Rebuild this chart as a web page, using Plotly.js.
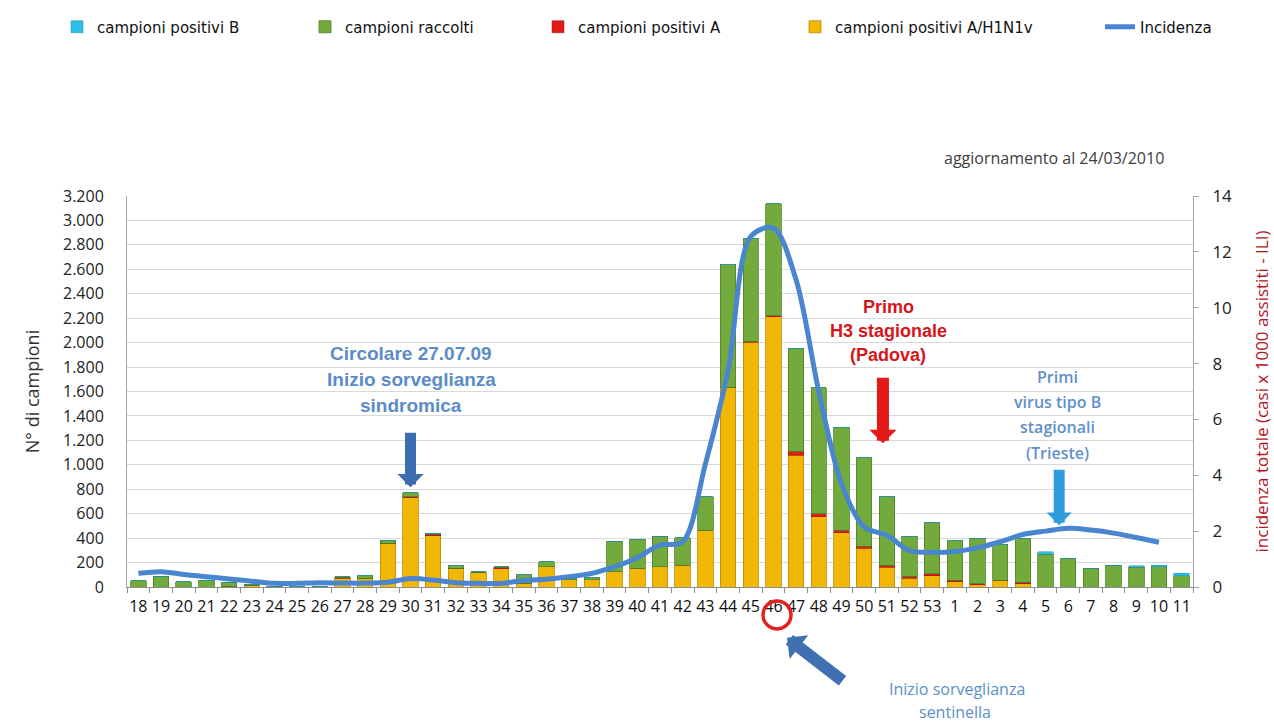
<!DOCTYPE html>
<html>
<head>
<meta charset="utf-8">
<script src="https://cdn.plot.ly/plotly-3.0.1.min.js"></script>
<style>
html,body{margin:0;padding:0;background:#fff;}
#chart{width:1274px;height:725px;}
</style>
</head>
<body>
<div id="chart"></div>
<script>
// ---- data ----
const settimane = ["18","19","20","21","22","23","24","25","26","27","28","29","30","31","32","33","34","35","36","37","38","39","40","41","42","43","44","45","46","47","48","49","50","51","52","53","1","2","3","4","5","6","7","8","9","10","11"];

// campioni positivi A/H1N1v (yellow, bottom of the stack)
const positiviH1N1 = [0,0,0,0,5,15,3,0,3,72,70,355,732,420,150,122,150,30,165,60,60,125,152,166,180,465,1635,2003,2212,1078,574,443,318,160,71,93,45,20,50,25,0,0,0,0,0,0,0];
// campioni positivi A (red)
const positiviA = [0,0,0,0,0,0,0,0,0,8,0,5,5,12,3,0,10,0,2,0,0,0,0,0,0,0,0,10,10,35,27,22,17,20,19,17,10,5,5,15,0,0,0,0,0,0,0];
// campioni raccolti (green, remainder of collected samples)
const raccolti = [52,90,44,57,33,7,2,3,2,4,22,24,36,6,21,3,6,70,40,11,16,250,240,250,223,272,1002,842,915,841,1029,844,724,557,326,415,329,375,295,357,268,234,152,180,160,165,93];
// campioni positivi B (cyan, top of the stack)
const positiviB = [0,0,0,0,0,0,0,0,0,0,0,0,0,0,0,0,0,0,0,0,0,0,0,0,0,0,0,0,0,0,0,0,0,0,0,0,0,0,0,0,20,0,0,0,14,15,18];
// Incidenza (casi x 1000 assistiti - ILI), right axis
const incidenza = [0.49,0.55,0.45,0.37,0.29,0.21,0.13,0.13,0.15,0.14,0.14,0.17,0.30,0.25,0.15,0.13,0.13,0.24,0.28,0.37,0.49,0.73,1.05,1.5,1.62,4.4,7.75,12.55,12.85,11.0,7.0,3.7,2.15,1.85,1.3,1.24,1.27,1.4,1.62,1.88,2.0,2.1,2.04,1.93,1.77,1.6,null];

// ---- geometry helpers (pixel -> paper) ----
const L = 127, R = 1193, T = 195, B = 587;
const px = x => (x - L) / (R - L);
const py = y => (B - y) / (B - T);

const FONT = '"Open Sans", "DejaVu Sans", sans-serif';
const BOLD = '"Liberation Sans", Arial, sans-serif';

const traces = [
  {type:'bar', name:'campioni positivi A/H1N1v', x:settimane, y:positiviH1N1, legend:'legend4',
   marker:{color:'#F2B705', line:{color:'#B98A00', width:0.8}}},
  {type:'bar', name:'campioni positivi A', x:settimane, y:positiviA, legend:'legend3',
   marker:{color:'#E31B1B', line:{color:'#A01010', width:0.5}}},
  {type:'bar', name:'campioni raccolti', x:settimane, y:raccolti, legend:'legend2',
   marker:{color:'#72AA3C', line:{color:'#4C8526', width:0.8}}},
  {type:'bar', name:'campioni positivi B', x:settimane, y:positiviB, legend:'legend',
   marker:{color:'#2DBEE6', line:{color:'#1A8FB0', width:0.5}}},
  {type:'scatter', mode:'lines', name:'Incidenza', x:settimane, y:incidenza, yaxis:'y2', legend:'legend5',
   line:{color:'#4A86D0', width:5, shape:'spline', smoothing:0.9}}
];

function txt(text, x, y, size, color, weight, family){
  return {text:text, xref:'paper', yref:'paper', x:px(x), y:py(y),
    xanchor:'center', yanchor:'middle', showarrow:false,
    font:{family:family||FONT, size:size, color:color, weight:weight||400}};
}

const annotations = [
  txt('aggiornamento al 24/03/2010', 1054, 157, 16, '#404040'),
  // Circolare
  txt('Circolare 27.07.09', 411, 353, 19, '#5B8CC7', 700, BOLD),
  txt('Inizio sorveglianza', 411, 379, 19, '#5B8CC7', 700, BOLD),
  txt('sindromica', 411, 405, 19, '#5B8CC7', 700, BOLD),
  // Primo H3
  txt('Primo', 888, 306, 18, '#D7141A', 700, BOLD),
  txt('H3 stagionale', 888, 330, 18, '#D7141A', 700, BOLD),
  txt('(Padova)', 888, 354, 18, '#D7141A', 700, BOLD),
  // Primi virus B
  txt('Primi', 1057, 376, 16, '#5F90C8', 600),
  txt('virus tipo B', 1057, 402, 16, '#5F90C8', 600),
  txt('stagionali', 1057, 427, 16, '#5F90C8', 600),
  txt('(Trieste)', 1057, 453, 16, '#5F90C8', 600),
  // Inizio sorveglianza sentinella
  txt('Inizio sorveglianza', 957, 689, 16, '#5B8FC9'),
  txt('sentinella', 955, 712, 16, '#5B8FC9'),
  // arrows (x given as category index)
  {text:'', xref:'x', yref:'paper', x:12, y:py(487), ax:0, ay:-56, showarrow:true,
   arrowhead:1, arrowwidth:11, arrowsize:0.4, arrowcolor:'#3D6DAE', standoff:0},
  {text:'', xref:'x', yref:'paper', x:32.83, y:py(443), ax:0, ay:-67, showarrow:true,
   arrowhead:1, arrowwidth:12, arrowsize:0.38, arrowcolor:'#E61919', standoff:0},
  {text:'', xref:'x', yref:'paper', x:40.6, y:py(525), ax:0, ay:-57, showarrow:true,
   arrowhead:1, arrowwidth:11, arrowsize:0.38, arrowcolor:'#2F9CDD', standoff:0},
  {text:'', xref:'paper', yref:'paper', x:px(787), y:py(638), ax:57, ay:44, showarrow:true,
   arrowhead:1, arrowwidth:12, arrowsize:0.42, arrowcolor:'#4170B0', standoff:0}
];

const shapes = [
  {type:'circle', xref:'paper', yref:'paper', x0:px(763), x1:px(791), y0:py(629), y1:py(601),
   line:{color:'#E3201B', width:3.5}}
];

function leg(xText){
  return {orientation:'h', x:px(xText - 40), xanchor:'left', y:py(27), yanchor:'middle',
    bgcolor:'rgba(0,0,0,0)', font:{family:'"DejaVu Sans", sans-serif', size:15, color:'#111'}};
}

const layout = {
  width:1274, height:725,
  margin:{l:L, r:1274-R, t:T, b:725-B, pad:0},
  paper_bgcolor:'#ffffff', plot_bgcolor:'#ffffff',
  barmode:'stack', bargap:0.32,
  separators:',.',
  font:{family:FONT, color:'#222'},
  showlegend:true,
  legend:leg(97), legend2:leg(345), legend3:leg(578), legend4:leg(835), legend5:leg(1140),
  xaxis:{type:'category', range:[-0.5, 46.5], tickson:'boundaries', ticks:'outside', ticklen:5,
    tickcolor:'#8c8c8c', showline:true, linecolor:'#8c8c8c', linewidth:1, showgrid:false,
    tickfont:{family:FONT, size:16, color:'#111'}, tickangle:0, ticklabelstandoff:5, fixedrange:true},
  yaxis:{range:[0,3200], dtick:200, tickformat:',d', showgrid:true, gridcolor:'#d9d9d9', gridwidth:1,
    showline:true, linecolor:'#a6a6a6', ticks:'', zeroline:false,
    tickfont:{family:FONT, size:16, color:'#222'}, ticklabelstandoff:19,
    title:{text:'N° di campioni', font:{family:FONT, size:18, color:'#333'}, standoff:18}},
  yaxis2:{overlaying:'y', side:'right', range:[0,14], dtick:2, showgrid:false, zeroline:false,
    showline:true, linecolor:'#a6a6a6', ticks:'outside', ticklen:5, tickcolor:'#a6a6a6',
    tickfont:{family:FONT, size:17, color:'#222'}, ticklabelstandoff:10,
    title:{text:'incidenza totale (casi x 1000 assistiti - ILI)', font:{family:FONT, size:17, color:'#B5121B'}, standoff:24}},
  annotations:annotations,
  shapes:shapes
};

Plotly.newPlot('chart', traces, layout, {displayModeBar:false, staticPlot:true});
</script>
</body>
</html>
